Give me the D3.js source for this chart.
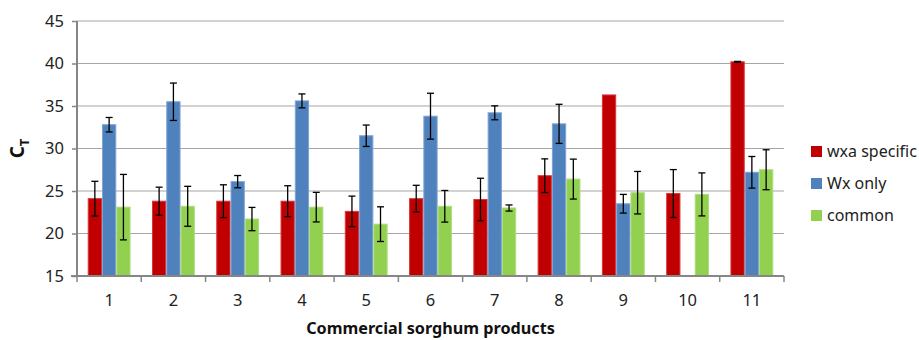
<!DOCTYPE html>
<html>
<head>
<meta charset="utf-8">
<script src="https://cdn.jsdelivr.net/npm/d3@7/dist/d3.min.js"></script>
<style>
  html, body { margin: 0; padding: 0; background: #fff; }
  svg { display: block; font-family: "Noto Sans", "Open Sans", sans-serif; }
</style>
</head>
<body>
<svg id="chart" width="919" height="340"></svg>
<script>
// Products on the x axis
const products = ["1", "2", "3", "4", "5", "6", "7", "8", "9", "10", "11"];
const seriesNames = ["wxa specific", "Wx only", "common"];
const seriesColors = ["#C00000", "#4F81BD", "#92D050"];
const seriesEdges = ["#D9363B", "#7FA3D2", "#AEDC7E"];

// Mean CT per product (null = not detected)
const wxaSpecific = [24.1, 23.8, 23.8, 23.8, 22.6, 24.1, 24.0, 26.8, 36.3, 24.7, 40.2];
const wxOnly      = [32.8, 35.5, 26.1, 35.6, 31.5, 33.8, 34.2, 32.9, 23.5, null, 27.2];
const common      = [23.1, 23.2, 21.7, 23.1, 21.1, 23.2, 23.0, 26.4, 24.8, 24.6, 27.5];

// Standard deviations
const wxaSpecificErr = [2.04, 1.65, 1.93, 1.82, 1.80, 1.57, 2.50, 1.98, null, 2.82, 0.05];
const wxOnlyErr      = [0.85, 2.20, 0.72, 0.82, 1.26, 2.70, 0.82, 2.30, 1.10, null, 1.86];
const commonErr      = [3.85, 2.35, 1.37, 1.74, 2.04, 1.86, 0.36, 2.35, 2.50, 2.53, 2.35];

const yTicks = [15, 20, 25, 30, 35, 40, 45];

const values = [wxaSpecific, wxOnly, common];
const errors = [wxaSpecificErr, wxOnlyErr, commonErr];

const svg = d3.select("#chart");
const margin = { left: 77, right: 135, top: 21, bottom: 64 };
const W = 919, H = 340;
const plotW = W - margin.left - margin.right;
const plotH = H - margin.top - margin.bottom;

const g = svg.append("g").attr("transform", `translate(${margin.left},${margin.top})`);

const x = d3.scaleBand().domain(products).range([0, plotW]).paddingInner(0).paddingOuter(0);
const xInner = d3.scaleBand().domain(d3.range(3)).range([0, x.bandwidth()]).paddingOuter(0.75).paddingInner(0);
const y = d3.scaleLinear().domain([15, 45]).range([plotH, 0]);

// Horizontal gridlines
g.append("g")
  .selectAll("line")
  .data(yTicks.filter(t => t > 15))
  .join("line")
  .attr("x1", 0).attr("x2", plotW)
  .attr("y1", d => y(d)).attr("y2", d => y(d))
  .attr("stroke", "#a6a6a6").attr("stroke-width", 1.2);

// Bars
const groups = g.append("g").selectAll("g")
  .data(products)
  .join("g")
  .attr("transform", d => `translate(${x(d)},0)`);

groups.each(function (p, i) {
  const grp = d3.select(this);
  for (let s = 0; s < 3; s++) {
    const v = values[s][i];
    if (v == null) continue;
    grp.append("rect")
      .attr("x", xInner(s) + 0.5)
      .attr("y", y(v))
      .attr("width", xInner.bandwidth() - 1)
      .attr("height", y(15) - y(v))
      .attr("fill", seriesColors[s])
      .attr("stroke", seriesEdges[s])
      .attr("stroke-width", 1);
  }
});

// Error bars
groups.each(function (p, i) {
  const grp = d3.select(this);
  for (let s = 0; s < 3; s++) {
    const v = values[s][i], e = errors[s][i];
    if (v == null || e == null) continue;
    const cx = xInner(s) + xInner.bandwidth() / 2;
    const y1 = y(v + e), y2 = y(v - e);
    const eb = grp.append("g").attr("stroke", "#000").attr("stroke-width", 1.3);
    eb.append("line").attr("x1", cx).attr("x2", cx).attr("y1", y1).attr("y2", y2);
    eb.append("line").attr("x1", cx - 3.5).attr("x2", cx + 3.5).attr("y1", y1).attr("y2", y1);
    eb.append("line").attr("x1", cx - 3.5).attr("x2", cx + 3.5).attr("y1", y2).attr("y2", y2);
  }
});

// Y axis
const yAxis = g.append("g")
  .call(d3.axisLeft(y).tickValues(yTicks).tickSize(5).tickPadding(8));
yAxis.select(".domain").attr("stroke", "#868686").attr("stroke-width", 2).attr("d", `M0,${plotH + 1}V0`);
yAxis.selectAll(".tick line").attr("stroke", "#868686").attr("stroke-width", 1.5);
yAxis.selectAll(".tick text").attr("font-size", 16.5).attr("fill", "#222").attr("font-family", "Noto Sans, sans-serif");

// X axis
const xAxis = g.append("g")
  .attr("transform", `translate(0,${plotH})`)
  .call(d3.axisBottom(x).tickSize(0).tickPadding(18));
xAxis.select(".domain").attr("stroke", "#868686").attr("stroke-width", 2).attr("d", `M-6,0H${plotW}`);
xAxis.selectAll(".tick text").attr("font-size", 16.5).attr("fill", "#222").attr("font-family", "Noto Sans, sans-serif");

// Category boundary ticks
g.append("g")
  .selectAll("line")
  .data(d3.range(products.length + 1))
  .join("line")
  .attr("x1", d => d * x.step()).attr("x2", d => d * x.step())
  .attr("y1", plotH).attr("y2", plotH + 6)
  .attr("stroke", "#868686").attr("stroke-width", 1.5);

// Axis titles
const yTitle = svg.append("text")
  .attr("transform", `translate(24,${margin.top + y(30)}) rotate(-90)`)
  .attr("text-anchor", "middle")
  .attr("font-weight", "bold")
  .attr("font-size", 19)
  .attr("fill", "#111");
yTitle.append("tspan").text("C");
yTitle.append("tspan").attr("font-size", 13).attr("dy", 5).text("T");

svg.append("text")
  .attr("x", margin.left + plotW / 2)
  .attr("y", 334)
  .attr("text-anchor", "middle")
  .attr("font-weight", "bold")
  .attr("font-size", 16.2)
  .attr("fill", "#111")
  .text("Commercial sorghum products");

// Legend
const legend = svg.append("g").attr("transform", "translate(811,146)");
seriesNames.forEach((name, s) => {
  const row = legend.append("g").attr("transform", `translate(0,${s * 32})`);
  row.append("rect").attr("width", 11).attr("height", 11).attr("fill", seriesColors[s]);
  row.append("text").attr("x", 16).attr("y", 11).attr("font-size", 16).attr("fill", "#222").text(name);
});
</script>
</body>
</html>
